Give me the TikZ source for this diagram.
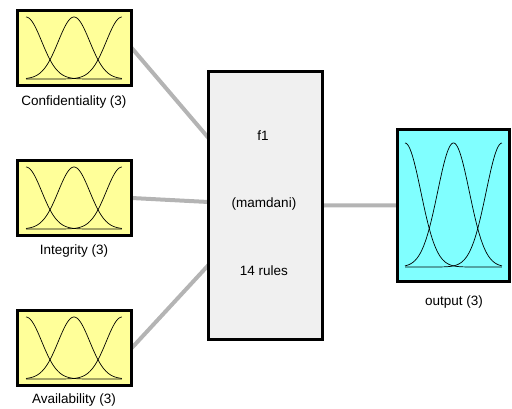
\documentclass[tikz,border=0pt]{standalone}
\usepackage{fontspec}
\setmainfont{Liberation Sans}
\usetikzlibrary{backgrounds}
\definecolor{inyellow}{HTML}{FFFF99}
\definecolor{outcyan}{HTML}{80FFFF}
\definecolor{fisgray}{HTML}{F0F0F0}
\definecolor{wiregray}{HTML}{B4B4B4}
\tikzset{
  varbox/.style={draw=black, line width=3pt, inner sep=0pt, outer sep=0pt},
  inbox/.style={varbox, fill=inyellow, minimum width=114pt, minimum height=75pt},
  outbox/.style={varbox, fill=outcyan, minimum width=111.5pt, minimum height=151.5pt},
  fisbox/.style={varbox, fill=fisgray, minimum width=114pt, minimum height=268pt},
  wire/.style={draw=wiregray, line width=4pt},
  mfline/.style={draw=black, line width=0.7pt},
  lbl/.style={font=\fontsize{13.5}{15}\selectfont, inner sep=0pt, anchor=base},
}
% three Gaussian membership functions between x0..x1, peak at ytop, base at ybot
\newcommand\mfcurves[4]{%
  \foreach \c in {0,0.5,1}{%
    \draw[mfline] plot[domain=0:1, samples=80, smooth]
      ({#1+(#2-#1)*\x},{#4+(#3-#4)*exp(-((\x-\c)^2)/0.0534)});}}
\begin{document}
\begin{tikzpicture}[x=1pt, y=-1pt]
  \useasboundingbox (0,0) rectangle (512,408);

  % inputs
  \node[inbox] (conf) at (74.75,48) {};
  \node[inbox] (integ) at (74.75,198) {};
  \node[inbox] (avail) at (74.75,348) {};
  \mfcurves{26}{122}{17}{79}
  \mfcurves{26}{122}{167}{229}
  \mfcurves{26}{122}{317}{379}
  \node[lbl] (confl) at (74,105.5) {Confidentiality (3)};
  \node[lbl] (integl) at (74,254.5) {Integrity (3)};
  \node[lbl] (availl) at (74,403.5) {Availability (3)};

  % inference system
  \node[fisbox] (fis) at (265.5,205.5) {};
  \node[lbl] (fname) at (263,140) {f1};
  \node[lbl] (ftype) at (264,207.5) {(mamdani)};
  \node[lbl] (frules) at (264,275) {14 rules};

  % output
  \node[outbox] (out) at (453.25,205.25) {};
  \mfcurves{405}{502}{143}{267}
  \node[lbl] (outl) at (454,305) {output (3)};

  % wiring
  \coordinate (fin1) at ([yshift=67.5pt]fis.west);
  \coordinate (fin2) at ([yshift=3.5pt]fis.west);
  \coordinate (fin3) at ([yshift=-59.5pt]fis.west);
  \begin{scope}[on background layer]
    \draw[wire] (conf.east) -- (fin1);
    \draw[wire] (integ.east) -- (fin2);
    \draw[wire] (avail.east) -- (fin3);
    \draw[wire] (fis.east) -- (out.west);
  \end{scope}
\end{tikzpicture}
\end{document}
